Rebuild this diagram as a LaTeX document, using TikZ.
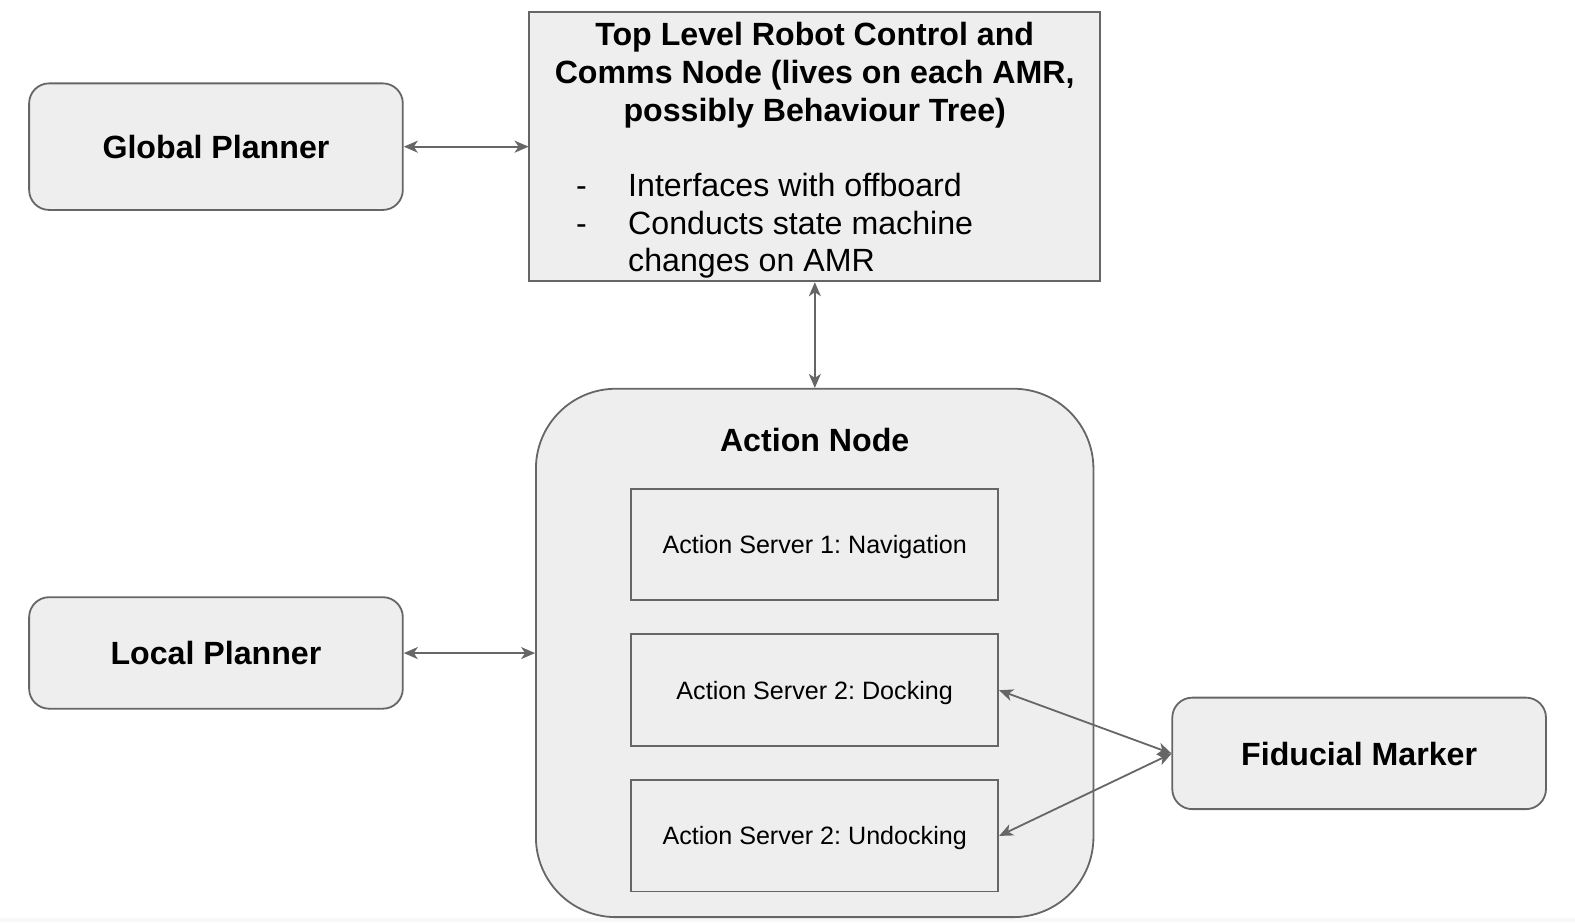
\documentclass[tikz,border=0pt]{standalone}
\usepackage{fontspec}
\setmainfont{Liberation Sans}
\usetikzlibrary{arrows.meta}
\definecolor{boxfill}{HTML}{EEEEEE}
\definecolor{boxline}{HTML}{666666}
\frenchspacing
\begin{document}
\begin{tikzpicture}[x=0.5bp,y=-0.5bp,scale=1.0045,transform shape,
    box/.style={draw=boxline,fill=boxfill,line width=0.9bp,inner sep=0pt,text depth=0pt},
    roundbox/.style={box,rounded corners=10bp,minimum width=186bp,
        font=\fontsize{16bp}{19bp}\selectfont\bfseries},
    serverbox/.style={box,minimum width=182.5bp,minimum height=55.5bp,
        font=\fontsize{12.5bp}{15bp}\selectfont},
    link/.style={draw=boxline,line width=0.9bp,
        {Stealth[length=7bp,width=6bp,inset=2bp]}-{Stealth[length=7bp,width=6bp,inset=2bp]}}]
    \useasboundingbox (0,0) rectangle (1567.9,917.9);
    \fill [color=black!3] (0,913.5) rectangle (1567.9,917.9);

    \node [roundbox,minimum height=63bp] (global) at (215,146) {Global Planner};
    \node [roundbox,minimum height=55.5bp] (local) at (215,650) {Local Planner};
    \node [roundbox,minimum height=55.5bp] (fiducial) at (1353,750) {Fiducial Marker};

    \node [box,minimum width=284bp,minimum height=134bp] (top) at (811,146) {};
    \node [align=center,inner sep=0pt,font=\fontsize{16bp}{18.75bp}\selectfont\bfseries]
        (toptitle) at (811,75) {Top Level Robot Control and\\Comms Node (lives on each AMR,\\possibly Behaviour Tree)};
    \node [align=left,anchor=west,inner sep=0pt,font=\fontsize{16bp}{18.75bp}\selectfont]
        (toplist) at (573,225) {\makebox[26bp][l]{-}Interfaces with offboard\\
        \makebox[26bp][l]{-}Conducts state machine\\
        \hspace*{26bp}changes on AMR};

    \node [box,rounded corners=40bp,minimum width=277.5bp,minimum height=263bp] (action) at (811,650) {};
    \node [inner sep=0pt,text depth=0pt,font=\fontsize{16bp}{19bp}\selectfont\bfseries] (actiontitle) at (811,438) {Action Node};

    \foreach \i/\y/\t in {1/542/{Action Server 1: Navigation},
                          2/687/{Action Server 2: Docking},
                          3/832/{Action Server 2: Undocking}}
        {\node [serverbox] (as\i) at (811,\y) {\t};}

    \draw [link] (global.east) -- (top.west);
    \draw [link] (top.south) -- (action.north);
    \draw [link] (local.east) -- (action.west);
    \draw [link] (as2.east) -- (fiducial.west);
    \draw [link] (as3.east) -- (fiducial.west);
\end{tikzpicture}
\end{document}
